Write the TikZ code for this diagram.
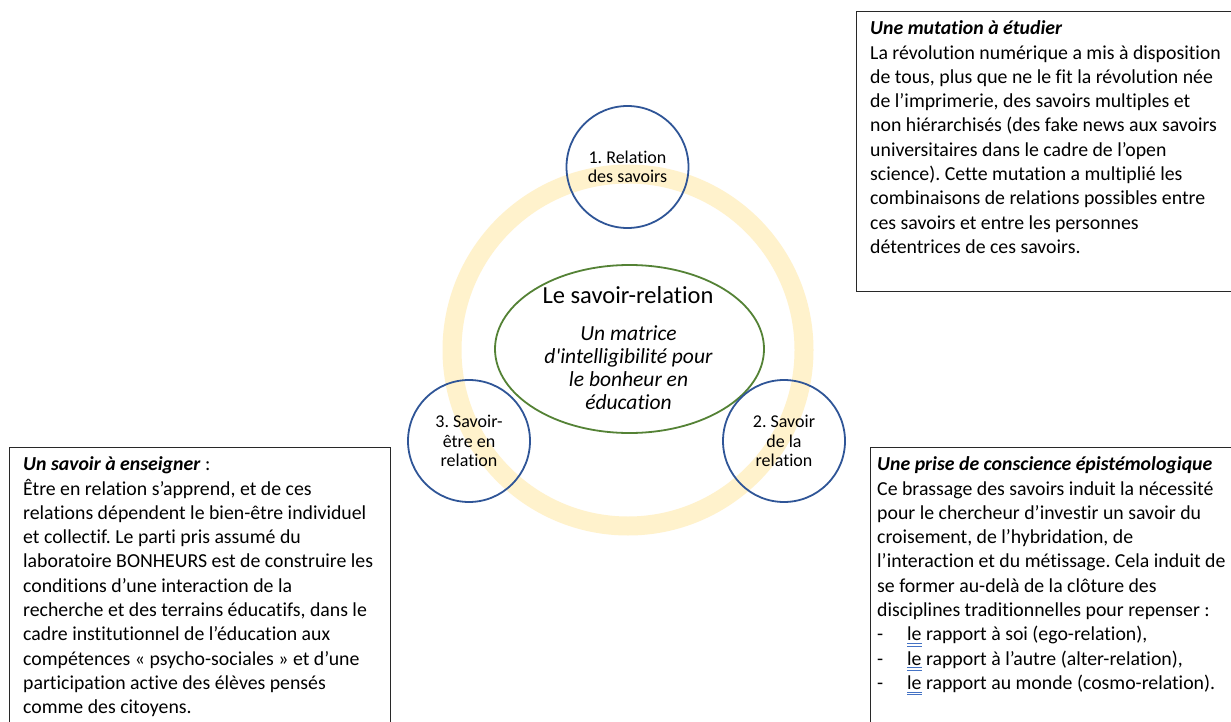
\documentclass[tikz,border=0pt]{standalone}
\usepackage{fontspec}
\setmainfont{Carlito}[Ligatures=NoCommon]
\usetikzlibrary{shapes.geometric}
\frenchspacing

\definecolor{ringgold}{RGB}{255,242,204}
\definecolor{circblue}{RGB}{47,85,151}
\definecolor{ellgreen}{RGB}{84,130,53}
\definecolor{boxline}{RGB}{40,40,40}
\definecolor{gramblue}{RGB}{68,114,196}

% first-line strut so that a node's top sits a fixed distance above its first baseline
\newcommand{\lead}[1]{\rule{0pt}{#1}}
% straight typewriter apostrophe, set as a glyph so no quote mapping applies
\newcommand{\straightquote}{\XeTeXglyph\XeTeXcharglyph"27\relax}
% word marked with a blue double underline
\newcommand{\gramle}{\setbox0\hbox{le}\rlap{\color{gramblue}\rule[-3pt]{\wd0}{0.9pt}}\rlap{\color{gramblue}\rule[-5.6pt]{\wd0}{0.9pt}}\box0}
\newcommand{\bulletline}[1]{\makebox[30pt][l]{-}#1}

\tikzset{
  framebox/.style={draw=boxline, line width=1.1pt, rectangle, anchor=north west, inner sep=0pt},
  bodytext/.style={anchor=north west, inner sep=0pt, align=left, font=\fontsize{19.8}{24.3}\selectfont},
  stage/.style={circle, draw=circblue, line width=1.8pt, minimum size=122pt, inner sep=0pt},
  stagelabel/.style={anchor=north, inner sep=0pt, align=center, font=\fontsize{18}{19.8}\selectfont},
  core/.style={ellipse, draw=ellgreen, line width=1.8pt, minimum width=269pt, minimum height=168pt, inner sep=0pt},
}

\begin{document}
\begin{tikzpicture}[x=1pt,y=-1pt]
\clip (0,0) rectangle (1231,722);
\fill[white] (0,0) rectangle (1231,722);

% pale ring joining the three stages
\draw[ringgold, line width=19pt] (628,350) circle[radius=176pt];

% central idea
\node[core] (centre) at (629.5,349) {};
\node[anchor=base, inner sep=0pt, font=\fontsize{24.5}{28}\selectfont] (centretitle) at (628,303) {Le savoir-relation};
\node[anchor=north, inner sep=0pt, align=center, font=\fontsize{21.5}{23}\selectfont\itshape] (centresub) at (628.5,321)
  {\lead{19pt}Un matrice\\d\straightquote intelligibilité pour\\le bonheur en\\éducation};

% the three stages
\node[stage] (s1) at (627.5,167) {};
\node[stagelabel] (s1label) at (627.5,147) {\lead{16pt}1. Relation\\des savoirs};
\node[stage] (s2) at (784,441) {};
\node[stagelabel] (s2label) at (784,411) {\lead{16pt}2. Savoir\\de la\\relation};
\node[stage] (s3) at (469,441) {};
\node[stagelabel] (s3label) at (469,411) {\lead{16pt}3. Savoir-\\être en\\relation};

% commentary boxes
\node[framebox, minimum width=390pt, minimum height=280pt] (boxtop) at (856,11) {};
\node[bodytext] (texttop) at (870,16.5) {\lead{18pt}\textbf{\textit{Une mutation à étudier}}\\
La révolution numérique a mis à disposition\\
de tous, plus que ne le fit la révolution née\\
de l’imprimerie, des savoirs multiples et\\
non hiérarchisés (des fake news aux savoirs\\
universitaires dans le cadre de l’open\\
science). Cette mutation a multiplié les\\
combinaisons de relations possibles entre\\
ces savoirs et entre les personnes\\
détentrices de ces savoirs.};

\node[framebox, minimum width=381pt, minimum height=300pt] (boxleft) at (9,447) {};
\node[bodytext] (textleft) at (23,452.5) {\lead{18pt}\textbf{\textit{Un savoir à enseigner}} :\\
Être en relation s’apprend, et de ces\\
relations dépendent le bien-être individuel\\
et collectif. Le parti pris assumé du\\
laboratoire BONHEURS est de construire les\\
conditions d’une interaction de la\\
recherche et des terrains éducatifs, dans le\\
cadre institutionnel de l’éducation aux\\
compétences « psycho-sociales » et d’une\\
participation active des élèves pensés\\
comme des citoyens.};

\node[framebox, minimum width=380pt, minimum height=300pt] (boxright) at (870,447) {};
\node[bodytext] (textright) at (877,452.5) {\lead{18pt}\textbf{\textit{Une prise de conscience épistémologique}}\\
Ce brassage des savoirs induit la nécessité\\
pour le chercheur d’investir un savoir du\\
croisement, de l’hybridation, de\\
l’interaction et du métissage. Cela induit de\\
se former au-delà de la clôture des\\
disciplines traditionnelles pour repenser :\\
\bulletline{\gramle{} rapport à soi (ego-relation),}\\
\bulletline{\gramle{} rapport à l’autre (alter-relation),}\\
\bulletline{\gramle{} rapport au monde (cosmo-relation).}};
\end{tikzpicture}
\end{document}
